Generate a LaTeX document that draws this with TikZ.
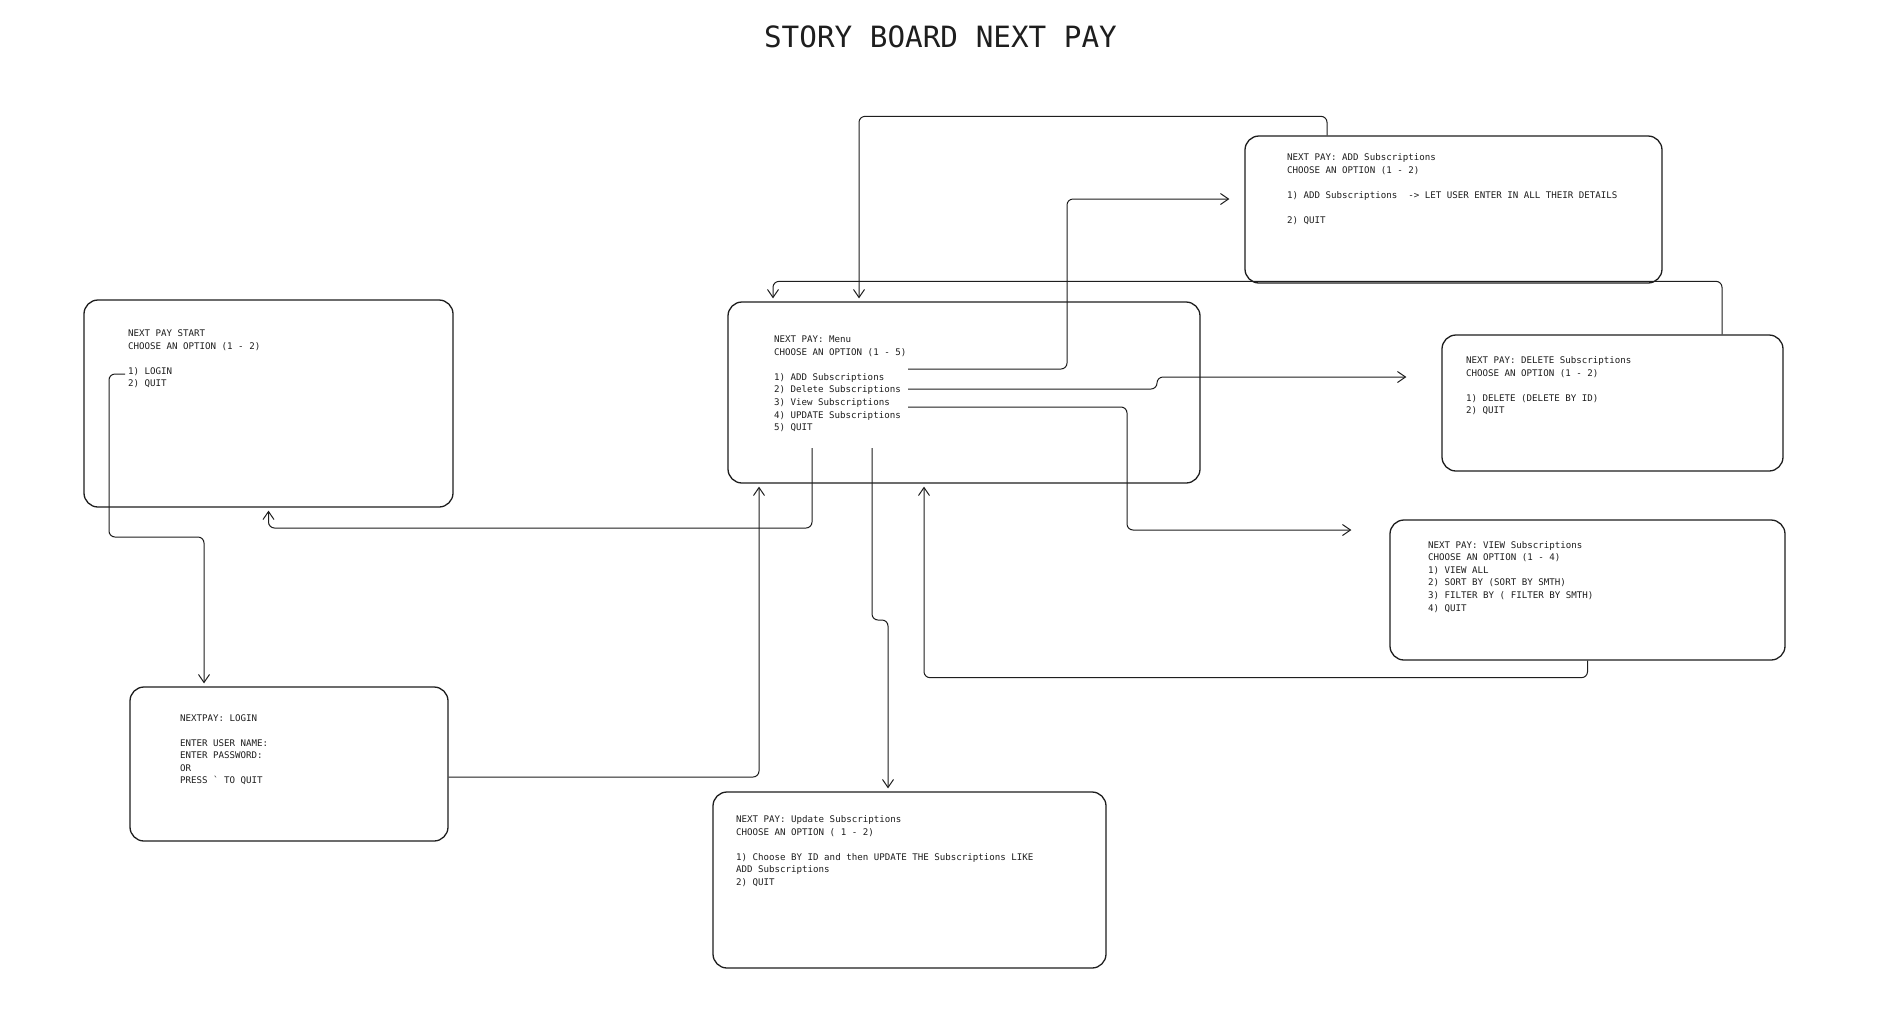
\documentclass[tikz,border=0pt]{standalone}
\usepackage{fontspec}
\setmonofont{DejaVu Sans Mono}
\usepackage{tikz}
\usetikzlibrary{arrows.meta,positioning,calc}
\definecolor{ink}{RGB}{30,30,30}

\begin{document}
\begin{tikzpicture}[x=1pt,y=-1pt,
    screen/.style={draw=ink,line width=1.3pt,rounded corners=14pt,inner sep=0pt},
    screentxt/.style={anchor=north west,inner sep=0pt,align=left,text=ink,
      font=\ttfamily\fontsize{9.14}{12.6}\selectfont},
    link/.style={draw=ink,line width=1pt,rounded corners=6pt,
      -{Straight Barb[length=8pt,width=11pt]},shorten >=3pt}]
    \fill[white] (0,0) rectangle (1890,1013);
    \useasboundingbox (0,0) rectangle (1890,1013);

    \node[font=\ttfamily\fontsize{29.3}{35}\selectfont,text=ink,inner sep=0pt] (title) at (940.5,37.3) {STORY BOARD NEXT PAY};

    \node[screen,minimum width=369pt,minimum height=207pt] (start) at (268.5,403.5) {};
    \node[screen,minimum width=472pt,minimum height=181pt] (menu) at (964,392.5) {};
    \node[screen,minimum width=417pt,minimum height=147pt] (add) at (1453.5,209.5) {};
    \node[screen,minimum width=341pt,minimum height=136pt] (del) at (1612.5,403) {};
    \node[screen,minimum width=395pt,minimum height=140pt] (view) at (1587.5,590) {};
    \node[screen,minimum width=318pt,minimum height=154pt] (login) at (289,764) {};
    \node[screen,minimum width=393pt,minimum height=176pt] (update) at (909.5,880) {};

    \node[screentxt] (starttxt) at (128,327.6) {\strut NEXT PAY START\\CHOOSE AN OPTION (1 - 2)\\[12.5pt]1) LOGIN\\2) QUIT};
    \node[screentxt] (menutxt) at (774,333.6) {\strut NEXT PAY: Menu\\CHOOSE AN OPTION (1 - 5)\\[12.5pt]1) ADD Subscriptions\\2) Delete Subscriptions\\3) View Subscriptions\\4) UPDATE Subscriptions\\5) QUIT};
    \node[screentxt] (addtxt) at (1287,151.6) {\strut NEXT PAY: ADD Subscriptions\\CHOOSE AN OPTION (1 - 2)\\[12.5pt]1) ADD Subscriptions\ \ -> LET USER ENTER IN ALL THEIR DETAILS\\[12.5pt]2) QUIT};
    \node[screentxt] (deltxt) at (1466,354.6) {\strut NEXT PAY: DELETE Subscriptions\\CHOOSE AN OPTION (1 - 2)\\[12.5pt]1) DELETE (DELETE BY ID)\\2) QUIT};
    \node[screentxt] (viewtxt) at (1428,539.1) {\strut NEXT PAY: VIEW Subscriptions\\CHOOSE AN OPTION (1 - 4)\\1) VIEW ALL\\2) SORT BY (SORT BY SMTH)\\3) FILTER BY ( FILTER BY SMTH)\\4) QUIT};
    \node[screentxt] (logintxt) at (180,712) {\strut NEXTPAY: LOGIN\\[12.5pt]ENTER USER NAME:\\ENTER PASSWORD:\\OR\\PRESS ` TO QUIT};
    \node[screentxt] (updatetxt) at (736,813.4) {\strut NEXT PAY: Update Subscriptions\\CHOOSE AN OPTION ( 1 - 2)\\[12.5pt]1) Choose BY ID and then UPDATE THE Subscriptions LIKE\\ADD Subscriptions\\2) QUIT};

    \coordinate (startlogin) at (125,374);
    \coordinate (menuquit) at (812,448);
    \coordinate (menuupd) at (872,448);
    \coordinate (menuadd) at (908,369);
    \coordinate (menudel) at (908,389);
    \coordinate (menuview) at (908,407);

    \draw[link] (startlogin) -| ++(-16,163) -| ([xshift=-85pt]login.north);
    \draw[link] (menuquit) -- ++(0,80) -| (start.south);
    \draw[link] ([yshift=-13pt]login.east) -| ([xshift=-205pt]menu.south);
    \draw[link] (menuupd) -- ++(0,172) -| ([xshift=-21.5pt]update.north);
    \draw[link] (menuadd) -- ++(159,0) |- ([xshift=-12pt,yshift=10.5pt]add.west);
    \draw[link] (menudel) -- ++(249,0) |- ([xshift=-32pt,yshift=26pt]del.west);
    \draw[link] (menuview) -- ++(219,0) |- ([xshift=-35pt,yshift=60pt]view.west);
    \draw[link] (view.south) -- ++(0,17) -| ([xshift=-40pt]menu.south);
    \draw[link] ([xshift=-126.5pt]add.north) -- ++(0,-19) -| ([xshift=-105pt]menu.north);
    \draw[link] ([xshift=109.5pt]del.north) -- ++(0,-53) -| ([xshift=-191pt]menu.north);
\end{tikzpicture}
\end{document}
